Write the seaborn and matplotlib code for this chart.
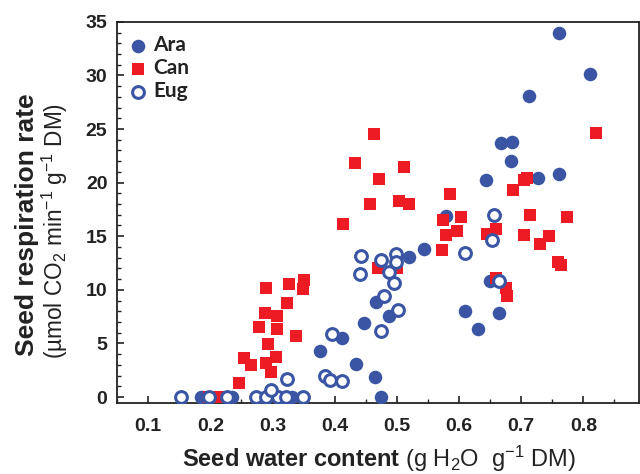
import numpy as np
import pandas as pd
import matplotlib
matplotlib.use("Agg")
import matplotlib.pyplot as plt
from matplotlib.ticker import MultipleLocator
import seaborn as sns

# data
ara_x = [0.185, 0.235, 0.332, 0.475, 0.465, 0.376, 0.411, 0.434, 0.447, 0.467,
         0.487, 0.519, 0.543, 0.579, 0.609, 0.631, 0.649, 0.665, 0.644, 0.667,
         0.685, 0.684, 0.713, 0.727, 0.761, 0.761, 0.811]
ara_y = [0, 0, 0, 0, 1.9, 4.3, 5.5, 3.1, 6.9, 8.9,
         7.6, 13.1, 13.8, 16.9, 8.0, 6.3, 10.8, 7.8, 20.2, 23.7,
         23.8, 22.0, 28.1, 20.4, 20.8, 34.0, 30.1]

can_x = [0.198, 0.212, 0.246, 0.254, 0.265, 0.278, 0.288, 0.289, 0.289, 0.293,
         0.297, 0.305, 0.307, 0.307, 0.324, 0.327, 0.338, 0.350, 0.349, 0.413,
         0.433, 0.457, 0.463, 0.471, 0.469, 0.500, 0.504, 0.511, 0.520, 0.573,
         0.574, 0.579, 0.585, 0.596, 0.603, 0.645, 0.660, 0.660, 0.676, 0.677,
         0.687, 0.704, 0.709, 0.714, 0.704, 0.730, 0.745, 0.759, 0.764, 0.774,
         0.820]
can_y = [0, 0, 1.3, 3.6, 3.0, 6.5, 7.8, 10.2, 3.2, 4.9,
         2.3, 3.7, 7.6, 6.3, 8.8, 10.5, 5.7, 10.9, 10.1, 16.1,
         21.8, 18.0, 24.5, 20.3, 12.0, 12.0, 18.3, 21.5, 18.0, 13.7,
         16.5, 15.1, 18.9, 15.5, 16.8, 15.2, 15.7, 11.1, 10.2, 9.4,
         19.3, 20.2, 20.4, 17.0, 15.1, 14.3, 15.0, 12.6, 12.3, 16.8,
         24.6]

eug_x = [0.153, 0.198, 0.227, 0.273, 0.290, 0.308, 0.321, 0.349, 0.298, 0.323,
         0.385, 0.392, 0.411, 0.396, 0.442, 0.441, 0.475, 0.479, 0.502, 0.496,
         0.487, 0.475, 0.499, 0.499, 0.610, 0.653, 0.657, 0.664]
eug_y = [0, 0, 0, 0, 0, 0, 0, 0, 0.7, 1.7,
         2.0, 1.6, 1.5, 5.9, 13.2, 11.5, 6.2, 9.4, 8.1, 10.6,
         11.7, 12.8, 13.3, 12.6, 13.4, 14.6, 17.0, 10.8]

blue = "#3a55a4"
red = "#ed1c24"
ink = "#222222"

sns.set_style("ticks")
plt.rcParams['font.family'] = ['Liberation Sans', 'DejaVu Sans']
plt.rcParams['mathtext.fontset'] = 'custom'
plt.rcParams['mathtext.rm'] = 'Liberation Sans'
plt.rcParams['mathtext.it'] = 'Liberation Sans:italic'
plt.rcParams['mathtext.bf'] = 'Liberation Sans:bold'

fig, ax = plt.subplots(figsize=(6.4, 4.74), dpi=100)
fig.subplots_adjust(left=0.183, right=0.998, bottom=0.150, top=0.954)

sns.scatterplot(x=ara_x, y=ara_y, ax=ax, color=blue, marker='o', s=95,
                linewidth=0, label='Ara', zorder=3)
sns.scatterplot(x=can_x, y=can_y, ax=ax, color=red, marker='s', s=85,
                linewidth=0, label='Can', zorder=3)
sns.scatterplot(x=eug_x, y=eug_y, ax=ax, marker='o', s=72,
                facecolor='white', edgecolor=blue, linewidth=2.2,
                label='Eug', zorder=4)

ax.set_xlim(0.05, 0.889)
ax.set_ylim(-0.55, 35)
ax.xaxis.set_major_locator(MultipleLocator(0.1))
ax.xaxis.set_minor_locator(MultipleLocator(0.05))
ax.yaxis.set_major_locator(MultipleLocator(5))
ax.yaxis.set_minor_locator(MultipleLocator(1))
ax.tick_params(axis='both', which='major', direction='in', length=5, width=1.2,
               labelsize=14, color=ink)
ax.tick_params(axis='x', which='major', pad=11)
ax.tick_params(axis='y', which='major', pad=7)
ax.tick_params(axis='both', which='minor', direction='in', length=3, width=1.0,
               color=ink)
for lab in ax.get_xticklabels() + ax.get_yticklabels():
    lab.set_fontweight('bold')
    lab.set_color(ink)

for sp in ax.spines.values():
    sp.set_linewidth(1.3)
    sp.set_color(ink)

# axis titles placed as figure text to match the reference layout
fig.text(379 / 640, 1 - 467 / 474,
         r"$\bf{Seed\ water\ content}$ (g H$_2$O  g$^{-1}$ DM)",
         fontsize=17, ha='center', va='baseline', color=ink)
fig.text(27 / 640, 1 - 225 / 474, "Seed respiration rate", rotation=90,
         fontsize=19, fontweight='bold', ha='center', va='center', color=ink)
fig.text(55 / 640, 1 - 231 / 474,
         "(\u00b5mol CO$_2$ min$^{-1}$ g$^{-1}$ DM)", rotation=90,
         fontsize=16.3, ha='center', va='center', color=ink)

leg = ax.legend(loc='upper left', bbox_to_anchor=(0.020, 0.965), frameon=False,
                prop={'family': 'Lato', 'weight': 'bold', 'size': 15},
                handletextpad=0.25, borderaxespad=0, borderpad=0,
                labelspacing=0.15, handlelength=1.0)
for t in leg.get_texts():
    t.set_color(ink)

fig.savefig("out.png", dpi=100)
